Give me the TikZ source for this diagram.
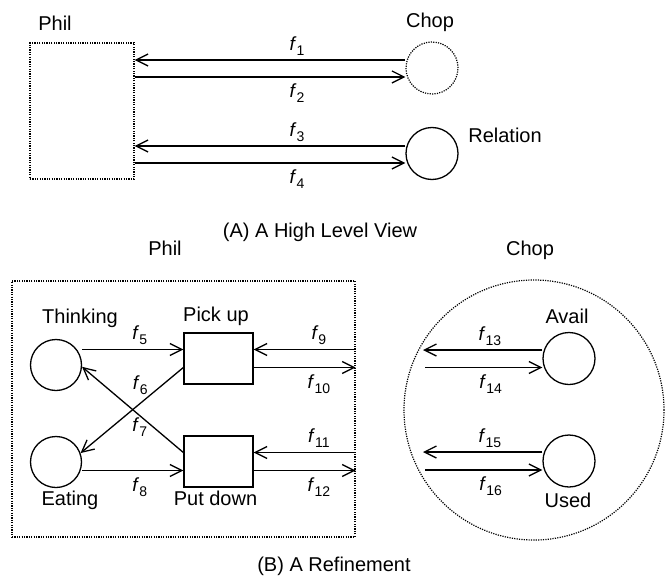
\documentclass[tikz,border=0pt]{standalone}
\usepackage{fontspec}
\setmainfont{Liberation Sans}
\usetikzlibrary{arrows.meta,calc}
\newcommand{\flab}[1]{\textit{f}\raisebox{-5pt}{\fontsize{14}{16}\selectfont #1}}
\begin{document}
\begin{tikzpicture}[x=1pt,y=-1pt,
  every node/.style={font=\fontsize{20}{24}\selectfont},
  dots/.style={draw, line width=1.2pt, dash pattern=on 1.2pt off 1.2pt, inner sep=0pt},
  place/.style={draw, circle, line width=1.3pt, minimum size=51pt, inner sep=0pt},
  trans/.style={draw, rectangle, line width=1.3pt, minimum width=69pt, minimum height=51pt, inner sep=0pt},
  arr/.style={-{Straight Barb[length=12pt,width=12pt,line width=1.3pt]}, line width=1.3pt},
  lab/.style={inner sep=0pt, font=\fontsize{19}{22}\selectfont},
  la/.style={lab, anchor=south, yshift=4pt},
  lb/.style={lab, anchor=north, yshift=-6.5pt},
  txt/.style={anchor=base, inner sep=0pt},
]
\useasboundingbox (0,0) rectangle (668,583);

% ---------- (A) ----------
\node[dots, rectangle, minimum width=104pt, minimum height=136pt] (philA) at (82,111) {};
\node[dots, circle, minimum size=52pt] (chopA) at (432,68) {};
\node[place, minimum size=52pt] (relA) at (432,153.5) {};
\node[txt] (tPhilA) at (55,31) {Phil};
\node[txt] (tChopA) at (430,28) {Chop};
\node[txt] (tRel) at (505,142) {Relation};

\draw[arr] ([yshift=8pt]chopA.west) -- ([yshift=8pt]chopA.west -| philA.east) node[pos=0.4, la] {\flab{1}};
\draw[arr] ([yshift=-9pt]chopA.west -| philA.east) -- ([yshift=-9pt]chopA.west) node[pos=0.6, lb] {\flab{2}};
\draw[arr] ([yshift=7.5pt]relA.west) -- ([yshift=7.5pt]relA.west -| philA.east) node[pos=0.4, la] {\flab{3}};
\draw[arr] ([yshift=-9.5pt]relA.west -| philA.east) -- ([yshift=-9.5pt]relA.west) node[pos=0.6, lb] {\flab{4}};

\node[txt] (capA) at (320,237) {(A) A High Level View};

% ---------- (B) ----------
\node[txt] (tPhilB) at (165,255) {Phil};
\node[txt] (tChopB) at (530,255) {Chop};

\node[dots, rectangle, minimum width=343pt, minimum height=256pt] (philB) at (183.5,409) {};
\node[place] (thinkB) at (56,365) {};
\node[place] (eatB) at (56,462) {};
\node[trans] (pickB) at (218.5,358.5) {};
\node[trans] (putB) at (218.5,461.5) {};
\node[txt] (tThink) at (80,323) {Thinking};
\node[txt] (tEat) at (70,505) {Eating};
\node[txt] (tPick) at (216,321.5) {Pick up};
\node[txt] (tPut) at (215.5,505) {Put down};

\draw[arr] ([yshift=9pt]pickB.west -| thinkB.east) -- ([yshift=9pt]pickB.west) node[pos=0.57, la] {\flab{5}};
\draw[arr] ([yshift=-9pt]pickB.west) -- (eatB.20) node[pos=0.42, lab, yshift=18.7pt] {\flab{6}};
\draw[arr] ([yshift=9pt]putB.west) -- (thinkB.-4) node[pos=0.43, lab, yshift=-11.3pt] {\flab{7}};
\draw[arr] ([yshift=-9pt]putB.west -| eatB.east) -- ([yshift=-9pt]putB.west) node[pos=0.57, lb] {\flab{8}};

\draw[arr] ([yshift=9pt]pickB.east -| philB.east) -- ([yshift=9pt]pickB.east) node[pos=0.36, la] {\flab{9}};
\draw[arr] ([yshift=-9pt]pickB.east) -- ([yshift=-9pt]pickB.east -| philB.east) node[pos=0.64, lb] {\flab{10}};
\draw[arr] ([yshift=9pt]putB.east -| philB.east) -- ([yshift=9pt]putB.east) node[pos=0.36, la] {\flab{11}};
\draw[arr] ([yshift=-9pt]putB.east) -- ([yshift=-9pt]putB.east -| philB.east) node[pos=0.64, lb] {\flab{12}};

\node[dots, circle, minimum size=260pt] (chopB) at (534,410) {};
\node[place, minimum size=52pt] (availB) at (569,358.5) {};
\node[place, minimum size=52pt] (usedB) at (569,461) {};
\node[txt] (tAvail) at (567,323) {Avail};
\node[txt] (tUsed) at (568,507) {Used};
\coordinate (cl) at (423,0);
\coordinate (cr) at (425,0);

\draw[arr] ([yshift=8.5pt]availB.west) -- ([yshift=8.5pt]availB.west -| cl) node[pos=0.44, la] {\flab{13}};
\draw[arr] ([yshift=-9pt]availB.west -| cr) -- ([yshift=-9pt]availB.west) node[pos=0.56, lb] {\flab{14}};
\draw[arr] ([yshift=9pt]usedB.west) -- ([yshift=9pt]usedB.west -| cl) node[pos=0.44, la] {\flab{15}};
\draw[arr] ([yshift=-9pt]usedB.west -| cr) -- ([yshift=-9pt]usedB.west) node[pos=0.56, lb] {\flab{16}};

\node[txt] (capB) at (334,571) {(B) A Refinement};
\end{tikzpicture}
\end{document}
